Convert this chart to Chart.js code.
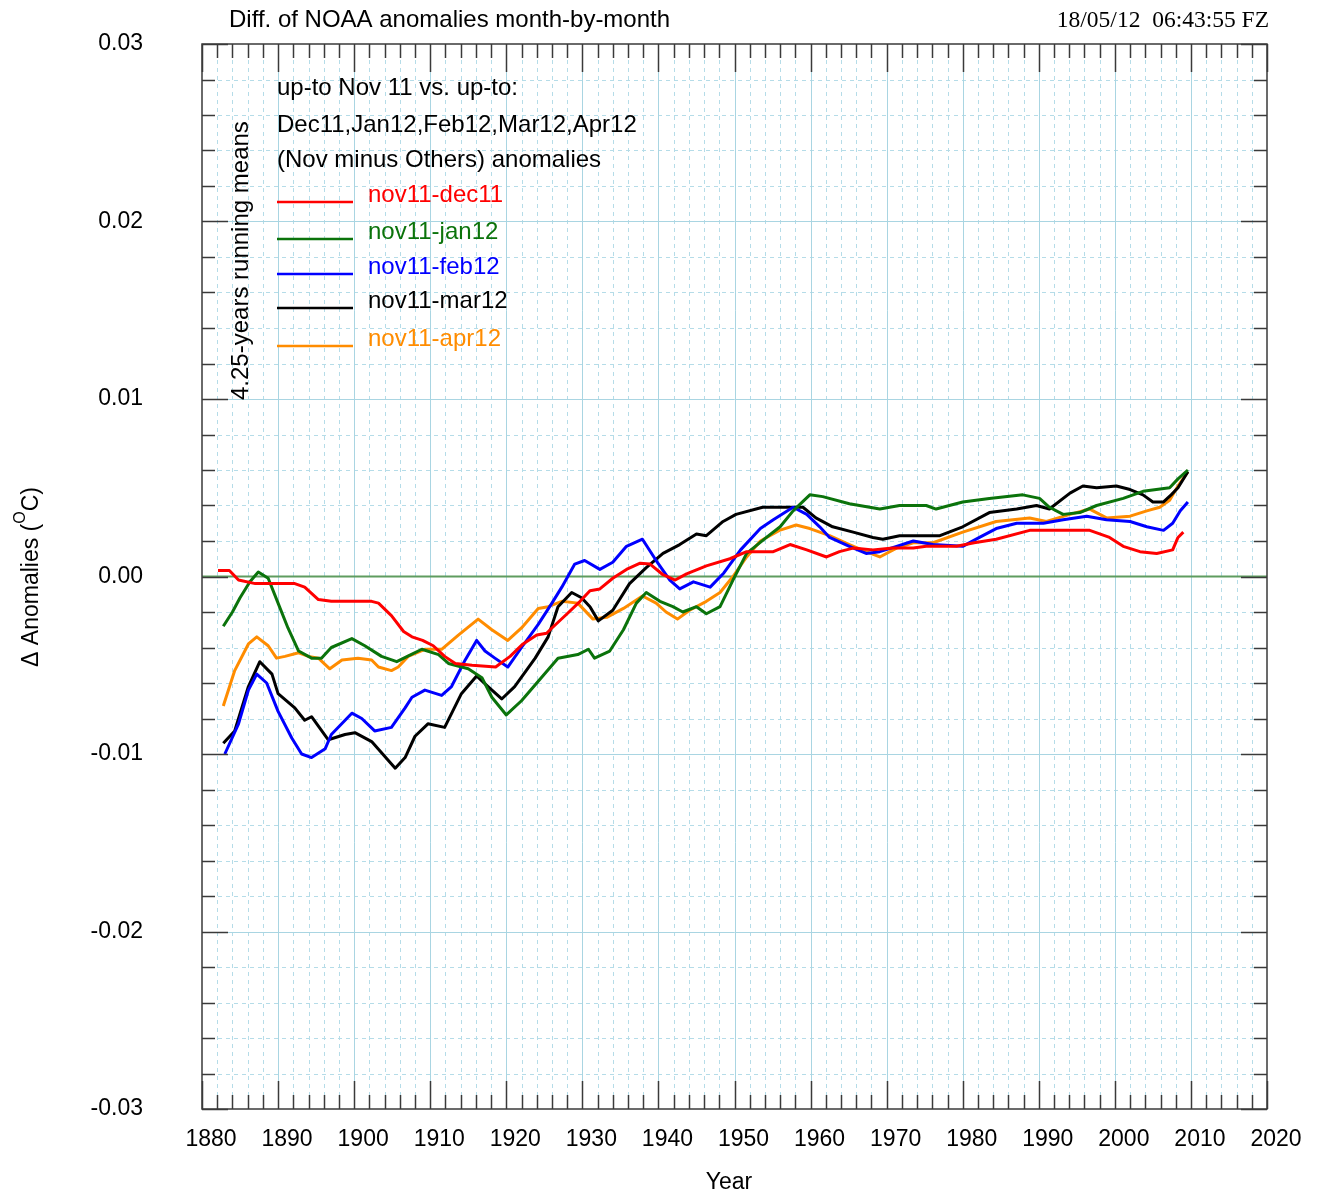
<!DOCTYPE html>
<html>
<head>
<meta charset="utf-8">
<title>Diff. of NOAA anomalies month-by-month</title>
<script src="https://cdn.jsdelivr.net/npm/chart.js@4.4.1/dist/chart.umd.min.js"></script>
<style>
  html, body { margin: 0; padding: 0; background: #ffffff; }
  canvas { display: block; }
</style>
</head>
<body>
<canvas id="diffChart" width="1321" height="1198"></canvas>
<script>
// [year, anomaly difference in degC]
const nov11Dec11 = [[1882.1,0.00034],[1883.6,0.00034],[1884.8,-0.0002],[1887,-0.0004],[1889.2,-0.0004],[1892.2,-0.0004],[1893.5,-0.0006],[1895.3,-0.0013],[1897,-0.0014],[1899.7,-0.0014],[1902.3,-0.0014],[1903.2,-0.0015],[1904.9,-0.0022],[1906.5,-0.0031],[1907.6,-0.0034],[1909,-0.0036],[1910.4,-0.0039],[1911.9,-0.0045],[1913.3,-0.0049],[1915.5,-0.005],[1918.6,-0.0051],[1920.5,-0.0045],[1922.2,-0.0038],[1924,-0.0033],[1925.3,-0.0032],[1926,-0.0029],[1928,-0.0021],[1929.7,-0.0014],[1931,-0.0008],[1932.3,-0.0007],[1934,-0.0001],[1935.8,0.0004],[1937.6,0.00075],[1938.9,0.0007],[1940.6,0.0001],[1942.2,-0.0002],[1943.7,0.00015],[1946.3,0.0006],[1949.4,0.001],[1951.6,0.0014],[1955.1,0.0014],[1957.3,0.0018],[1959.5,0.0015],[1962.1,0.0011],[1963.8,0.0014],[1965.6,0.0016],[1968.2,0.0015],[1970.8,0.0016],[1973.5,0.0016],[1975.2,0.0017],[1979.2,0.0017],[1981.5,0.0019],[1984.4,0.0021],[1988.8,0.0026],[1993.2,0.0026],[1996.7,0.0026],[1999.3,0.0022],[2001.1,0.0017],[2003.3,0.0014],[2005.5,0.0013],[2007.6,0.0015],[2008.3,0.0022],[2009,0.0025]];

const nov11Jan12 = [[1882.8,-0.0028],[1884,-0.002],[1885,-0.0012],[1886.3,-0.0003],[1887.4,0.00025],[1888.7,-0.0001],[1890,-0.0015],[1891.3,-0.0029],[1892.7,-0.0042],[1894.4,-0.0046],[1895.7,-0.0046],[1897,-0.004],[1899.7,-0.0035],[1901.4,-0.0039],[1903.6,-0.0045],[1905.6,-0.0048],[1907,-0.0045],[1908.9,-0.0041],[1911.1,-0.0044],[1912.4,-0.0049],[1915,-0.0052],[1916.8,-0.0057],[1918.1,-0.0068],[1920,-0.0078],[1922,-0.007],[1924.6,-0.0057],[1926.8,-0.0046],[1929.4,-0.0044],[1930.8,-0.0041],[1931.6,-0.0046],[1933.6,-0.0042],[1935.4,-0.003],[1937.1,-0.0015],[1938.4,-0.0009],[1940.2,-0.0014],[1941.9,-0.0017],[1943.2,-0.002],[1945,-0.0017],[1946.3,-0.0021],[1948.1,-0.0017],[1949.8,-0.0002],[1951.6,0.0013],[1954.2,0.0022],[1956,0.0028],[1957.7,0.0037],[1959.9,0.0046],[1961.6,0.0045],[1965.1,0.0041],[1969.1,0.0038],[1971.7,0.004],[1975.2,0.004],[1976.5,0.0038],[1980,0.0042],[1983.5,0.0044],[1987.9,0.0046],[1990.1,0.0044],[1991.4,0.0039],[1993.2,0.0035],[1995.4,0.0036],[1997.6,0.004],[2001.1,0.0044],[2003.7,0.0048],[2007.2,0.005],[2008.3,0.0055],[2009.6,0.006]];

const nov11Feb12 = [[1883,-0.01],[1884.8,-0.0083],[1886.1,-0.0064],[1887.2,-0.0055],[1888.5,-0.006],[1890,-0.0076],[1891.8,-0.0091],[1893.1,-0.01],[1894.4,-0.0102],[1896.2,-0.0097],[1897,-0.0089],[1899.7,-0.0077],[1901,-0.008],[1902.7,-0.0087],[1904.9,-0.0085],[1906.7,-0.0074],[1907.6,-0.0068],[1909.3,-0.0064],[1911.5,-0.0067],[1912.8,-0.0062],[1914.6,-0.0047],[1916.1,-0.0036],[1917.2,-0.0042],[1918.5,-0.0046],[1920.2,-0.0051],[1922,-0.004],[1924.2,-0.0027],[1926,-0.0015],[1927.3,-0.0006],[1929,0.0007],[1930.3,0.0009],[1932.3,0.0004],[1934,0.0008],[1935.8,0.0017],[1937.9,0.0021],[1939.7,0.0009],[1941.5,-0.0002],[1942.8,-0.0007],[1944.6,-0.0003],[1946.8,-0.0006],[1948.6,0.0002],[1950.8,0.0015],[1953.4,0.0027],[1955.1,0.0032],[1957.7,0.0039],[1959.5,0.0035],[1961.2,0.0028],[1962.5,0.0022],[1965.1,0.0017],[1967.3,0.0013],[1969.1,0.0014],[1971.3,0.0017],[1973.5,0.002],[1976.1,0.0018],[1980,0.0017],[1982.2,0.0022],[1984.4,0.0027],[1987.1,0.003],[1990.6,0.003],[1993.2,0.0032],[1996.3,0.0034],[1998.9,0.0032],[2002,0.0031],[2004.2,0.0028],[2006.4,0.0026],[2007.6,0.003],[2008.6,0.0037],[2009.6,0.0042]];

const nov11Mar12 = [[1882.8,-0.0094],[1884.3,-0.0087],[1886.1,-0.0062],[1887.6,-0.0048],[1889.2,-0.0055],[1890,-0.0066],[1892.2,-0.0074],[1893.5,-0.0081],[1894.4,-0.0079],[1896.6,-0.0092],[1898.8,-0.0089],[1900.1,-0.0088],[1902.3,-0.0093],[1905.4,-0.0108],[1906.7,-0.0102],[1908,-0.009],[1909.7,-0.0083],[1911.9,-0.0085],[1914.1,-0.0066],[1916.1,-0.0056],[1917.6,-0.0062],[1919.4,-0.0069],[1921.1,-0.0062],[1923.8,-0.0046],[1925.5,-0.0034],[1926.8,-0.0017],[1928.6,-0.0009],[1929.9,-0.0012],[1931,-0.0017],[1932.1,-0.0025],[1934,-0.0019],[1936.2,-0.0004],[1938.4,0.0005],[1940.6,0.0013],[1942.8,0.0018],[1945,0.0024],[1946.3,0.0023],[1948.5,0.0031],[1950.2,0.0035],[1953.7,0.0039],[1956.3,0.0039],[1959,0.0039],[1960.7,0.0033],[1962.9,0.0028],[1965.6,0.0025],[1968.2,0.0022],[1969.5,0.0021],[1971.7,0.0023],[1977,0.0023],[1980,0.0028],[1983.5,0.0036],[1987.1,0.0038],[1989.7,0.004],[1991.4,0.0038],[1994.1,0.0047],[1995.8,0.0051],[1997.6,0.005],[2000.2,0.0051],[2002,0.0049],[2003.7,0.0046],[2005,0.0042],[2006.4,0.0042],[2007.4,0.0046],[2008.3,0.005],[2009.6,0.0059]];

const nov11Apr12 = [[1882.8,-0.0073],[1884.3,-0.0053],[1886.1,-0.0038],[1887.2,-0.0034],[1888.7,-0.0039],[1889.8,-0.0046],[1890.9,-0.0045],[1892.7,-0.0043],[1894,-0.0045],[1895.3,-0.0046],[1896.8,-0.0052],[1898.4,-0.0047],[1900.5,-0.0046],[1902.3,-0.0047],[1903.2,-0.0051],[1904.9,-0.0053],[1905.8,-0.0051],[1907.1,-0.0045],[1909.3,-0.0041],[1911.5,-0.0041],[1913.7,-0.0033],[1916.3,-0.0024],[1918.1,-0.003],[1920.2,-0.0036],[1922,-0.0029],[1924.2,-0.0018],[1925.5,-0.0017],[1927.3,-0.0014],[1929.4,-0.0015],[1931.4,-0.0024],[1933.2,-0.0023],[1935.4,-0.0018],[1937.9,-0.0011],[1939.7,-0.0015],[1941,-0.002],[1942.5,-0.0024],[1944.1,-0.0019],[1946.3,-0.0014],[1948.1,-0.0009],[1949.8,0],[1951.6,0.0011],[1953.4,0.002],[1955.9,0.0026],[1958.1,0.0029],[1959.9,0.0027],[1962.5,0.0023],[1965.1,0.0018],[1967.3,0.0014],[1969.1,0.0011],[1971.3,0.0016],[1973.5,0.0019],[1976.1,0.0019],[1980,0.0025],[1984.4,0.0031],[1988.8,0.0033],[1991,0.0031],[1994.1,0.0035],[1996.7,0.0038],[1998.9,0.0033],[2002,0.0034],[2004.2,0.0037],[2005.9,0.0039],[2007.2,0.0043],[2008.3,0.0051],[2009.6,0.0059]];

const seriesNames = ['nov11-dec11', 'nov11-jan12', 'nov11-feb12', 'nov11-mar12', 'nov11-apr12'];
const seriesColors = ['#ff0000', '#0b730b', '#0000ff', '#000000', '#ff8c00'];
const seriesData = [nov11Dec11, nov11Jan12, nov11Feb12, nov11Mar12, nov11Apr12];

const headerLines = ['up-to Nov 11 vs. up-to:', 'Dec11,Jan12,Feb12,Mar12,Apr12', '(Nov minus Others) anomalies'];

const SANS = '"Liberation Sans", Arial, sans-serif';
const SERIF = '"Liberation Serif", "Times New Roman", serif';

function strokeLine(ctx, x1, y1, x2, y2) {
    ctx.beginPath();
    ctx.moveTo(x1, y1);
    ctx.lineTo(x2, y2);
    ctx.stroke();
}

// grid, zero line, frame with inward ticks, and the free text
const plotDecor = {
    id: 'plotDecor',
    beforeDatasetsDraw(chart) {
        const { ctx, chartArea: a, scales: { x, y } } = chart;
        ctx.save();
        ctx.lineWidth = 1;

        // minor grid, dashed
        ctx.strokeStyle = '#b5dce8';
        ctx.setLineDash([4, 4]);
        for (let yr = 1882; yr < 2020; yr += 2) {
            if (yr % 10 === 0) continue;
            const px = Math.round(x.getPixelForValue(yr)) + 0.5;
            strokeLine(ctx, px, a.top, px, a.bottom);
        }
        for (let k = -28; k <= 28; k += 2) {
            if (k % 10 === 0) continue;
            const py = Math.round(y.getPixelForValue(k / 1000)) + 0.5;
            strokeLine(ctx, a.left, py, a.right, py);
        }

        // major grid, solid
        ctx.setLineDash([]);
        ctx.strokeStyle = '#a9d5e2';
        for (let yr = 1890; yr < 2020; yr += 10) {
            const px = Math.round(x.getPixelForValue(yr)) + 0.5;
            strokeLine(ctx, px, a.top, px, a.bottom);
        }
        [-0.02, -0.01, 0.01, 0.02].forEach(v => {
            const py = Math.round(y.getPixelForValue(v)) + 0.5;
            strokeLine(ctx, a.left, py, a.right, py);
        });

        // zero line
        ctx.strokeStyle = '#5f9c5f';
        ctx.lineWidth = 2;
        const y0 = y.getPixelForValue(0);
        strokeLine(ctx, a.left, y0, a.right, y0);
        ctx.restore();
    },
    afterDatasetsDraw(chart) {
        const { ctx, chartArea: a, scales: { x, y } } = chart;
        ctx.save();
        ctx.strokeStyle = '#3a3a3a';
        ctx.lineWidth = 1.5;
        ctx.strokeRect(a.left, a.top, a.right - a.left, a.bottom - a.top);

        // tick marks pointing into the plot, on all four sides
        for (let yr = 1880; yr <= 2020; yr += 2) {
            const px = Math.round(x.getPixelForValue(yr)) + 0.5;
            const len = yr % 10 === 0 ? 28 : 14;
            strokeLine(ctx, px, a.bottom, px, a.bottom - len);
            strokeLine(ctx, px, a.top, px, a.top + len);
        }
        for (let k = -30; k <= 30; k += 2) {
            const py = Math.round(y.getPixelForValue(k / 1000)) + 0.5;
            const len = k % 10 === 0 ? 26 : 13;
            strokeLine(ctx, a.left, py, a.left + len, py);
            strokeLine(ctx, a.right, py, a.right - len, py);
        }
        ctx.restore();
    },
    afterDraw(chart) {
        const { ctx } = chart;
        ctx.save();
        ctx.fillStyle = '#000';

        // title and time stamp
        ctx.font = '24px ' + SANS;
        ctx.textAlign = 'left';
        ctx.textBaseline = 'alphabetic';
        ctx.fillText('Diff. of NOAA anomalies month-by-month', 229, 27);
        ctx.font = '23.5px ' + SERIF;
        ctx.textAlign = 'right';
        ctx.fillText('18/05/12  06:43:55 FZ', 1269, 27);

        // header of the legend
        ctx.font = '24px ' + SANS;
        ctx.textAlign = 'left';
        ctx.textBaseline = 'middle';
        [88, 125, 160].forEach((ty, i) => ctx.fillText(headerLines[i], 277, ty));

        // legend entries
        const textY = [195, 232, 267, 301, 339];
        seriesNames.forEach((name, i) => {
            ctx.strokeStyle = seriesColors[i];
            ctx.lineWidth = 2.5;
            strokeLine(ctx, 277, textY[i] + 7, 353, textY[i] + 7);
            ctx.fillStyle = seriesColors[i];
            ctx.fillText(name, 368, textY[i]);
        });
        ctx.fillStyle = '#000';

        // rotated note
        ctx.save();
        ctx.translate(241, 400);
        ctx.rotate(-Math.PI / 2);
        ctx.textAlign = 'left';
        ctx.fillText('4.25-years running means', 0, 0);
        ctx.restore();

        // y axis title with superscript O
        ctx.save();
        ctx.translate(32, 577);
        ctx.rotate(-Math.PI / 2);
        ctx.textBaseline = 'middle';
        ctx.textAlign = 'left';
        const part1 = '\u0394 Anomalies (', part2 = 'C)';
        ctx.font = '23px ' + SANS;
        const w1 = ctx.measureText(part1).width;
        const w3 = ctx.measureText(part2).width;
        ctx.font = '16px ' + SANS;
        const w2 = ctx.measureText('O').width;
        let cx = -(w1 + w2 + w3) / 2;
        ctx.font = '23px ' + SANS;
        ctx.fillText(part1, cx, 0);
        cx += w1;
        ctx.font = '16px ' + SANS;
        ctx.fillText('O', cx, -11);
        cx += w2;
        ctx.font = '23px ' + SANS;
        ctx.fillText(part2, cx, 0);
        ctx.restore();

        // x axis title
        ctx.font = '23px ' + SANS;
        ctx.textAlign = 'center';
        ctx.textBaseline = 'middle';
        ctx.fillText('Year', 729, 1183);
        ctx.restore();
    }
};

const datasets = seriesData.map((pts, i) => ({
    label: seriesNames[i],
    data: pts.map(p => ({ x: p[0], y: p[1] })),
    borderColor: seriesColors[i],
    borderWidth: 3,
    borderJoinStyle: 'round',
    pointRadius: 0,
    tension: 0,
    fill: false
}));

new Chart(document.getElementById('diffChart'), {
    type: 'line',
    data: { datasets: datasets },
    options: {
        responsive: false,
        animation: false,
        devicePixelRatio: 1,
        layout: { padding: { left: 0, right: 54, top: 44, bottom: 0 } },
        plugins: {
            legend: { display: false },
            tooltip: { enabled: false },
            title: { display: false }
        },
        scales: {
            x: {
                type: 'linear',
                min: 1880,
                max: 2020,
                afterFit: s => { s.height = 89; },
                grid: { display: false, drawTicks: false },
                border: { display: false },
                ticks: {
                    stepSize: 2,
                    autoSkip: false,
                    maxRotation: 0,
                    padding: 17,
                    labelOffset: 9,
                    color: '#000',
                    font: { family: SANS, size: 23 },
                    callback: v => (Math.round(v) % 10 === 0 ? String(Math.round(v)) : '')
                }
            },
            y: {
                type: 'linear',
                min: -0.03,
                max: 0.03,
                // the big label padding would otherwise push the plot top down
                afterFit: s => { s.width = 202; s.paddingTop = 0; s.paddingBottom = 0; },
                grid: { display: false, drawTicks: false },
                border: { display: false },
                ticks: {
                    stepSize: 0.01,
                    padding: 59,
                    color: '#000',
                    font: { family: SANS, size: 23 },
                    callback: v => (Math.abs(v) < 1e-9 ? '0.00' : v.toFixed(2))
                }
            }
        }
    },
    plugins: [plotDecor]
});
</script>
</body>
</html>
